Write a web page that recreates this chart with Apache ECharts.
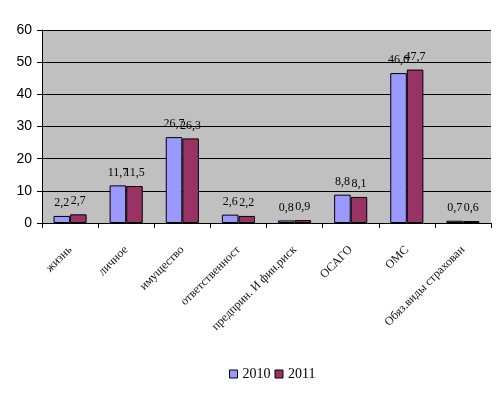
<!DOCTYPE html>
<html><head><meta charset="utf-8">
<script src="https://cdn.jsdelivr.net/npm/echarts@6/dist/echarts.min.js"></script>
<style>html,body{margin:0;padding:0;background:#fff}#c{width:503px;height:393px}</style>
</head><body><div id="c"></div>
<script>
const categories = ["жизнь","личное","имущество","ответственност","предприн. И фин.риск","ОСАГО","ОМС","Обяз.виды страхован"];
const seriesNames = ["2010","2011"];
const values2010 = [2.2, 11.7, 26.7, 2.6, 0.8, 8.8, 46.6, 0.7];
const values2011 = [2.7, 11.5, 26.3, 2.2, 0.9, 8.1, 47.7, 0.6];
const colors = ["#9999FF","#993366"];

const fmt = p => String(p.value).replace('.', ',');
const chart = echarts.init(document.getElementById('c'));
chart.setOption({
  animation:false,
  backgroundColor:'#fff',
  grid:{left:42,right:12,top:30,bottom:170,backgroundColor:'#C0C0C0',show:true,borderWidth:0},
  legend:{bottom:7,left:224,itemWidth:8,itemHeight:8,itemGap:4,icon:'rect',
    textStyle:{fontFamily:'Liberation Serif',fontSize:14,color:'#000'},
    itemStyle:{borderColor:'#000',borderWidth:1}},
  xAxis:{type:'category',data:categories,
    axisLine:{lineStyle:{color:'#000',width:1}},
    axisTick:{show:true,length:5,lineStyle:{color:'#000'}},
    axisLabel:{rotate:45,margin:25,interval:0,fontFamily:'Liberation Serif',fontSize:12,color:'#111'}},
  yAxis:{type:'value',min:0,max:60,interval:10,
    axisLine:{show:true,lineStyle:{color:'#000'}},
    axisTick:{show:true,length:5,lineStyle:{color:'#000'}},
    splitLine:{lineStyle:{color:'#000',width:1}},
    axisLabel:{margin:10,fontFamily:'Liberation Sans',fontSize:14,color:'#000'}},
  series:[
    {name:seriesNames[0],type:'bar',data:values2010,barGap:'0%',barCategoryGap:'41%',
     itemStyle:{color:colors[0],borderColor:'#000',borderWidth:1},
     label:{show:true,position:'top',distance:7,formatter:fmt,fontFamily:'Liberation Serif',fontSize:12,color:'#000'}},
    {name:seriesNames[1],type:'bar',data:values2011,
     itemStyle:{color:colors[1],borderColor:'#000',borderWidth:1},
     label:{show:true,position:'top',distance:7,formatter:fmt,fontFamily:'Liberation Serif',fontSize:12,color:'#000'}}
  ]
});
</script></body></html>
